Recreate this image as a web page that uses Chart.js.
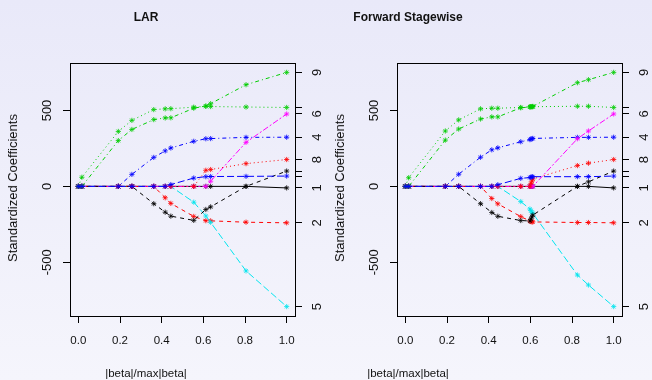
<!DOCTYPE html>
<html>
<head>
<meta charset="utf-8">
<script src="https://cdn.jsdelivr.net/npm/chart.js@4.4.0/dist/chart.umd.min.js"></script>
<style>
  html, body { margin: 0; padding: 0; }
  body {
    width: 652px; height: 380px; position: relative; overflow: hidden;
    background: linear-gradient(to bottom, #e9e9f9 0%, #f5f5fc 100%);
    font-family: "Liberation Sans", Arial, Helvetica, sans-serif; color: #111;
  }
  canvas { position: absolute; top: 0; }
  .lbl { position: absolute; white-space: nowrap; line-height: 14px; }
  .title { font-weight: bold; font-size: 12px; top: 10px; transform: translateX(-50%); }
  .xlab { font-size: 11.5px; top: 366px; transform: translateX(-50%); }
  .ylab { font-size: 13px; top: 188px; transform: translate(-50%, -50%) rotate(-90deg); }
</style>
</head>
<body>
<canvas id="lar" width="326" height="380" style="left:0"></canvas>
<canvas id="fs" width="326" height="380" style="left:326px"></canvas>

<div class="lbl title" style="left:146px">LAR</div>
<div class="lbl title" style="left:408px">Forward Stagewise</div>
<div class="lbl xlab" style="left:146px">|beta|/max|beta|</div>
<div class="lbl xlab" style="left:408px">|beta|/max|beta|</div>
<div class="lbl ylab" style="left:12.5px">Standardized Coefficients</div>
<div class="lbl ylab" style="left:340px">Standardized Coefficients</div>

<script>
/* ===== datos ===== */
const xTicks = [0, 0.2, 0.4, 0.6, 0.8, 1.0];
const yTicks = [-500, 0, 500];
// etiquetas del eje derecho (nº de variable; 3, 7 y 10 quedan sin texto)
const rightLabels = ['1', '2', '', '4', '5', '6', '', '8', '9', ''];

// LAR
const larX   = [0, 0.017, 0.192, 0.257, 0.362, 0.417, 0.444, 0.554, 0.612, 0.635, 0.805, 1.0];
const larAge = [0, 0, 0, 0, 0, 0, 0, 0, 0, 0, 0, -10];
const larSex = [0, 0, 0, 0, 0, -75, -112, -198, -226, -227, -236, -240];
const larBmi = [0, 60, 362, 435, 506, 511, 512, 522, 527, 526, 523, 520];
const larMap = [0, 0, 0, 79, 191, 234, 253, 297, 314, 315, 323, 324];
const larTc  = [0, 0, 0, 0, 0, 0, 0, -104, -195, -237, -557, -792];
const larLdl = [0, 0, 0, 0, 0, 0, 0, 0, 0, 34, 290, 477];
const larHdl = [0, 0, 0, 0, -114, -170, -196, -224, -152, -135, 0, 101];
const larTch = [0, 0, 0, 0, 0, 0, 0, 0, 106, 111, 150, 177];
const larLtg = [0, 0, 302, 375, 440, 451, 452, 515, 530, 545, 670, 751];
const larGlu = [0, 0, 0, 0, 0, 0, 12, 55, 64, 65, 66, 68];

// Forward Stagewise
const fsX   = [0, 0.016, 0.192, 0.256, 0.361, 0.415, 0.444, 0.554, 0.598, 0.603, 0.608, 0.612, 0.826, 0.879, 1.0];
const fsAge = [0, 0, 0, 0, 0, 0, 0, 0, 0, 0, 0, 0, 0, 0, -10];
const fsSex = [0, 0, 0, 0, 0, -80, -115, -199, -228, -232, -234, -234, -238, -238, -240];
const fsBmi = [0, 57, 365, 438, 511, 515, 515, 520, 524, 525, 525, 525, 528, 528, 520];
const fsMap = [0, 0, 0, 80, 192, 241, 254, 294, 308, 312, 314, 316, 323, 323, 324];
const fsTc  = [0, 0, 0, 0, 0, 0, 0, -100, -149, -160, -171, -178, -584, -650, -792];
const fsLdl = [0, 0, 0, 0, 0, 0, 0, 0, 0, 0, 0, 0, 314, 365, 477];
const fsHdl = [0, 0, 0, 0, -114, -172, -197, -225, -228, -215, -200, -189, 0, 30, 101];
const fsTch = [0, 0, 0, 0, 0, 0, 0, 0, 0, 20, 35, 49, 137, 153, 177];
const fsLtg = [0, 0, 305, 378, 444, 458, 458, 518, 523, 525, 526, 527, 683, 703, 751];
const fsGlu = [0, 0, 0, 0, 0, 0, 11, 53, 58, 61, 63, 64, 64, 64, 68];

/* ===== estilo tipo matplot de R: col 1:6, lty 1:6 ===== */
const lineColors = ['#000000', '#ff0000', '#00cd00', '#0000ff', '#00e5ee',
                    '#ff00ff', '#000000', '#ff0000', '#00cd00', '#0000ff'];
const lineDashes = [[], [4, 4], [1, 3], [1, 3, 4, 3], [7, 3],
                    [2, 2, 6, 2], [4, 4], [1, 3], [1, 3, 4, 3], [7, 3]];

Chart.defaults.font.family = '"Liberation Sans", Arial, Helvetica, sans-serif';
Chart.defaults.color = '#111';

// caja alrededor del área de trazado (box() de R)
const boxPlugin = {
  id: 'box',
  afterDraw(chart) {
    const a = chart.chartArea, ctx = chart.ctx;
    ctx.save();
    ctx.strokeStyle = '#000';
    ctx.lineWidth = 1;
    ctx.strokeRect(Math.round(a.left) + 0.5, Math.round(a.top) + 0.5,
                   Math.round(a.right - a.left), Math.round(a.bottom - a.top));
    ctx.restore();
  }
};

function makePathChart(canvas, xs, series, area) {
  const datasets = series.map((s, k) => ({
    data: xs.map((x, i) => ({ x, y: s[i] })),
    borderColor: lineColors[k],
    backgroundColor: lineColors[k],
    borderDash: lineDashes[k],
    borderWidth: 1,
    pointStyle: 'star',
    pointRadius: 2.6,
    pointBorderWidth: 0.8,
    pointBorderColor: lineColors[k],
    tension: 0,
    fill: false,
    order: series.length - k
  }));
  const finals = series.map(s => s[s.length - 1]);

  return new Chart(canvas, {
    type: 'line',
    data: { datasets },
    options: {
      responsive: false,
      animation: false,
      devicePixelRatio: 1,
      layout: { padding: { top: area.top, left: 0, right: 0, bottom: 0 } },
      plugins: { legend: { display: false }, tooltip: { enabled: false }, title: { display: false } },
      scales: {
        x: {
          type: 'linear', position: 'bottom', min: -0.04, max: 1.04,
          afterBuildTicks: s => { s.ticks = xTicks.map(v => ({ value: v })); },
          afterFit: s => { s.height = 380 - area.bottom; },
          ticks: { callback: v => v.toFixed(1), font: { size: 11.5 }, padding: 11, maxRotation: 0 },
          grid: { drawOnChartArea: false, tickLength: 7, color: '#000' },
          border: { display: false }
        },
        y: {
          type: 'linear', position: 'left', min: -854, max: 813,
          afterBuildTicks: s => { s.ticks = yTicks.map(v => ({ value: v })); },
          afterFit: s => { s.width = area.left; },
          ticks: { minRotation: 90, maxRotation: 90, crossAlign: 'center', padding: 3,
                   font: { size: 13 }, callback: v => String(v) },
          grid: { drawOnChartArea: false, tickLength: 7, color: '#000' },
          border: { display: false }
        },
        y2: {
          type: 'linear', position: 'right', min: -854, max: 813,
          afterBuildTicks: s => { s.ticks = finals.map(v => ({ value: v })); },
          afterFit: s => { s.width = 326 - area.right; },
          ticks: { minRotation: 90, maxRotation: 90, crossAlign: 'center', padding: 12,
                   autoSkip: false, font: { size: 13 }, callback: (v, i) => rightLabels[i] },
          grid: { drawOnChartArea: false, tickLength: 7, color: '#000' },
          border: { display: false }
        }
      }
    },
    plugins: [boxPlugin]
  });
}

makePathChart(document.getElementById('lar'), larX,
  [larAge, larSex, larBmi, larMap, larTc, larLdl, larHdl, larTch, larLtg, larGlu],
  { left: 70, right: 295, top: 63, bottom: 316 });

makePathChart(document.getElementById('fs'), fsX,
  [fsAge, fsSex, fsBmi, fsMap, fsTc, fsLdl, fsHdl, fsTch, fsLtg, fsGlu],
  { left: 71, right: 296, top: 63, bottom: 316 });
</script>
</body>
</html>
